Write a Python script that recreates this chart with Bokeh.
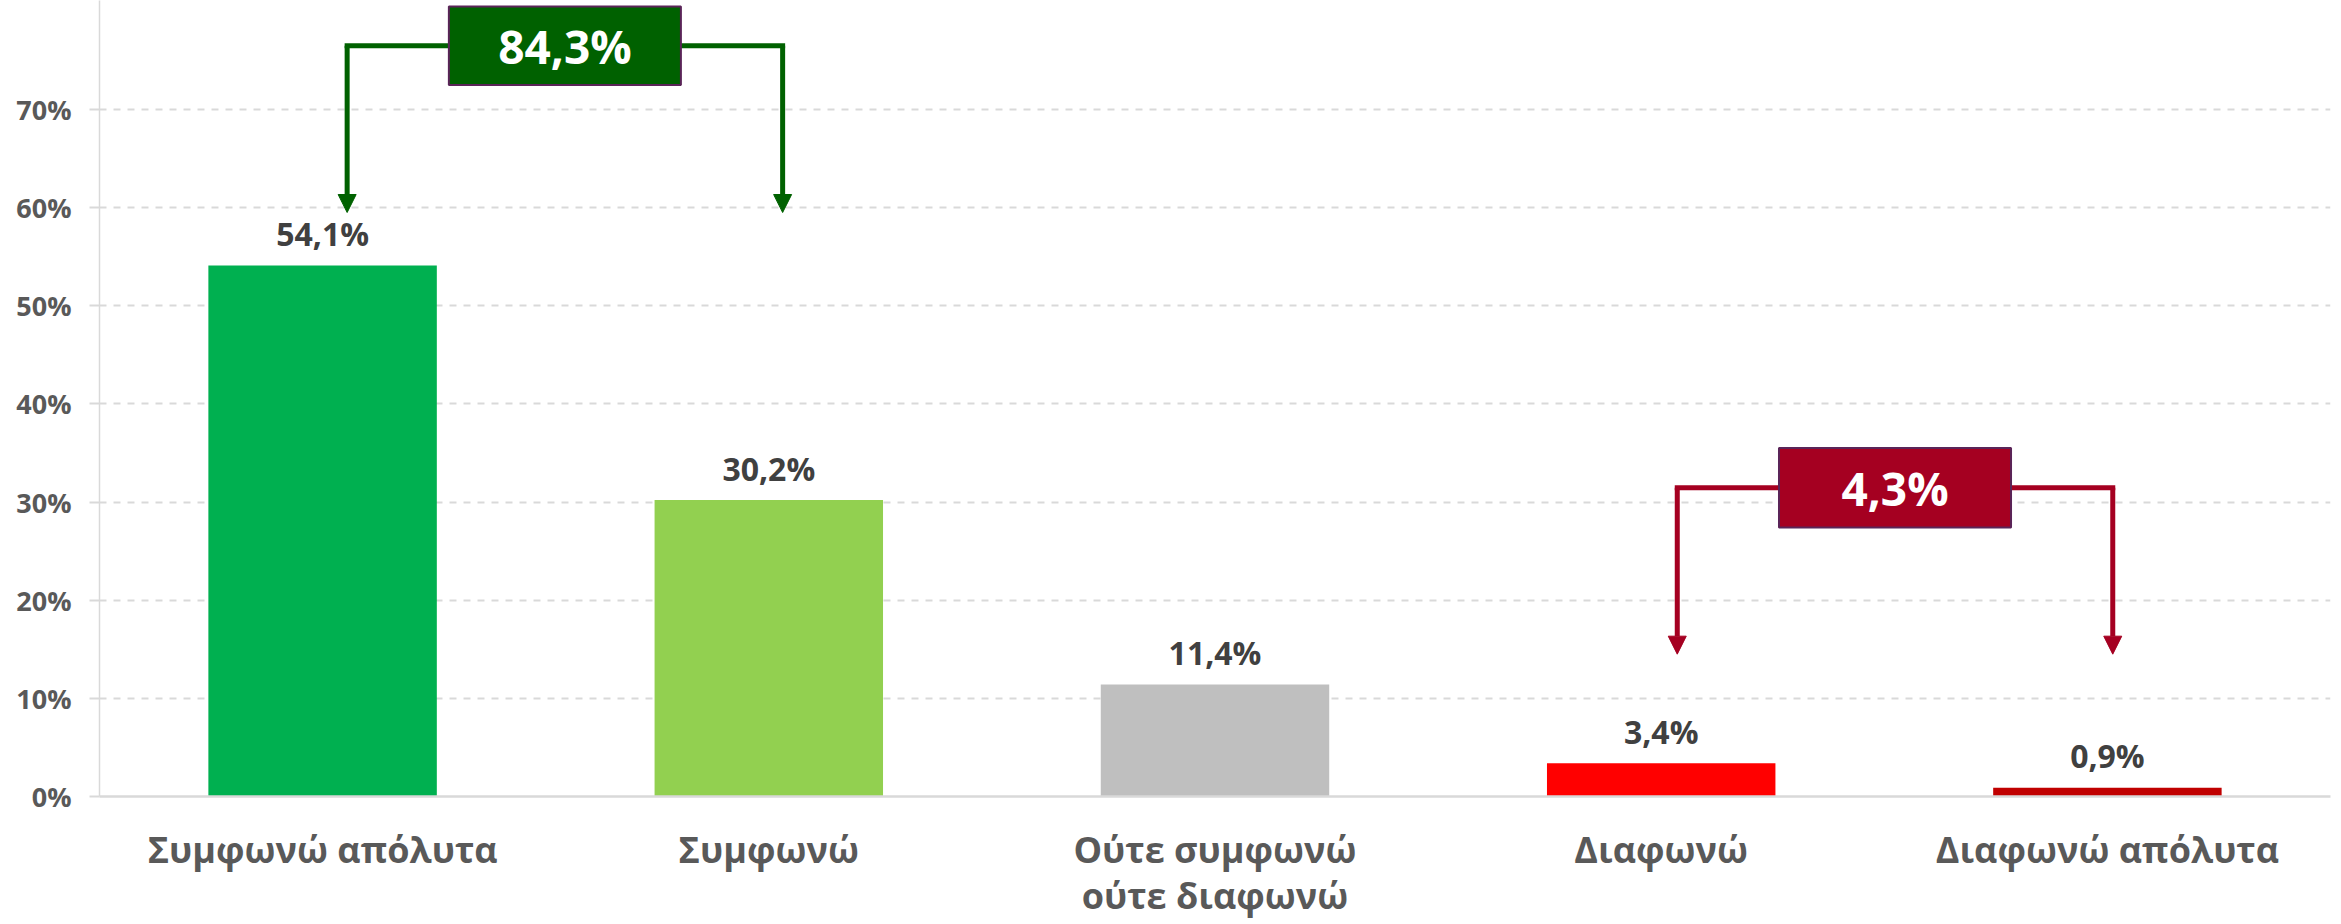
from bokeh.plotting import figure
from bokeh.models import Range1d, FixedTicker, Arrow, NormalHead
from bokeh.core.properties import value
from bokeh.embed import file_html
from bokeh.resources import INLINE

# ---- data ----
categories = ["Συμφωνώ απόλυτα", "Συμφωνώ", "Ούτε συμφωνώ\nούτε διαφωνώ", "Διαφωνώ", "Διαφωνώ απόλυτα"]
values = [54.1, 30.2, 11.4, 3.4, 0.9]
bar_colors = ["#00b050", "#92d050", "#bfbfbf", "#ff0000", "#c00000"]
y_ticks = [0, 10, 20, 30, 40, 50, 60, 70]
y_tick_labels = ["0%", "10%", "20%", "30%", "40%", "50%", "60%", "70%"]
agree_group = [0, 1]
disagree_group = [3, 4]

FONT = "Open Sans"
AXIS_GRAY = "#595959"
LINE_GRAY = "#d9d9d9"


def pct(v):
    return f"{v:.1f}".replace(".", ",") + "%"


xs = [i + 0.5 for i in range(len(categories))]

p = figure(width=2341, height=924, output_backend="svg", toolbar_location=None,
           x_range=Range1d(0, len(categories)), y_range=Range1d(0, 81.1),
           min_border_left=99, min_border_right=11, min_border_top=0, min_border_bottom=128)
p.outline_line_color = None
p.background_fill_color = "white"

# grid
p.xgrid.grid_line_color = None
p.ygrid.ticker = FixedTicker(ticks=y_ticks)
p.ygrid.grid_line_color = LINE_GRAY
p.ygrid.grid_line_width = 2
p.ygrid.grid_line_dash = "7 7"

# y axis
p.yaxis.ticker = FixedTicker(ticks=y_ticks)
p.yaxis.major_label_overrides = {t: l for t, l in zip(y_ticks, y_tick_labels)}
p.yaxis.axis_line_color = LINE_GRAY
p.yaxis.axis_line_width = 1.5
p.yaxis.major_tick_line_color = LINE_GRAY
p.yaxis.major_tick_line_width = 2
p.yaxis.major_tick_out = 10
p.yaxis.major_tick_in = 0
p.yaxis.minor_tick_line_color = None
p.yaxis.major_label_text_font = FONT
p.yaxis.major_label_text_font_style = "bold"
p.yaxis.major_label_text_font_size = "27px"
p.yaxis.major_label_text_color = AXIS_GRAY
p.yaxis.major_label_standoff = 18

# x axis
p.xaxis.ticker = FixedTicker(ticks=xs)
p.xaxis.major_label_overrides = {x: c for x, c in zip(xs, categories)}
p.xaxis.axis_line_color = LINE_GRAY
p.xaxis.axis_line_width = 2.5
p.xaxis.major_tick_line_color = None
p.xaxis.minor_tick_line_color = None
p.xaxis.major_label_text_font = FONT
p.xaxis.major_label_text_font_style = "bold"
p.xaxis.major_label_text_font_size = "36px"
p.xaxis.major_label_text_line_height = 0.95
p.xaxis.major_label_text_color = AXIS_GRAY
p.xaxis.major_label_standoff = 22

# bars
p.vbar(x=xs, top=values, width=0.512, color=bar_colors, line_color=None)

# data labels
p.text(x=xs, y=values, text=[pct(v) for v in values], text_font=value(FONT),
       text_font_style="bold", text_font_size="32px", text_color="#404040",
       text_align="center", text_baseline="alphabetic", y_offset=-32)


def bracket(group, color, y_line, tip_y, offsets, box_half_w, box_half_h):
    xl = xs[group[0]] + offsets[0]
    xr = xs[group[1]] + offsets[1]
    cx = (xl + xr) / 2
    p.segment(x0=[xl], y0=[y_line], x1=[xr], y1=[y_line], line_color=color,
              line_width=5, line_cap="square")
    for xa in (xl, xr):
        p.add_layout(Arrow(x_start=xa, y_start=y_line, x_end=xa, y_end=tip_y,
                           line_color=color, line_width=5,
                           end=NormalHead(size=18, fill_color=color, line_color=color, line_width=1)))
    p.rect(x=[cx], y=[y_line], width=[2 * box_half_w], height=[2 * box_half_h],
           fill_color=color, line_color="#5a2458", line_width=2)
    total = sum(values[i] for i in group)
    p.text(x=[cx], y=[y_line], text=[pct(total)], text_font=value(FONT),
           text_font_style="bold", text_font_size="46px", text_color="white",
           text_align="center", text_baseline="middle")


bracket(agree_group, "#006100", 76.5, 59.5, (0.055, 0.031), 0.26, 4.0)
bracket(disagree_group, "#a50021", 31.45, 14.5, (0.036, 0.012), 0.26, 4.05)

open("out.html", "w").write(file_html(p, INLINE))
